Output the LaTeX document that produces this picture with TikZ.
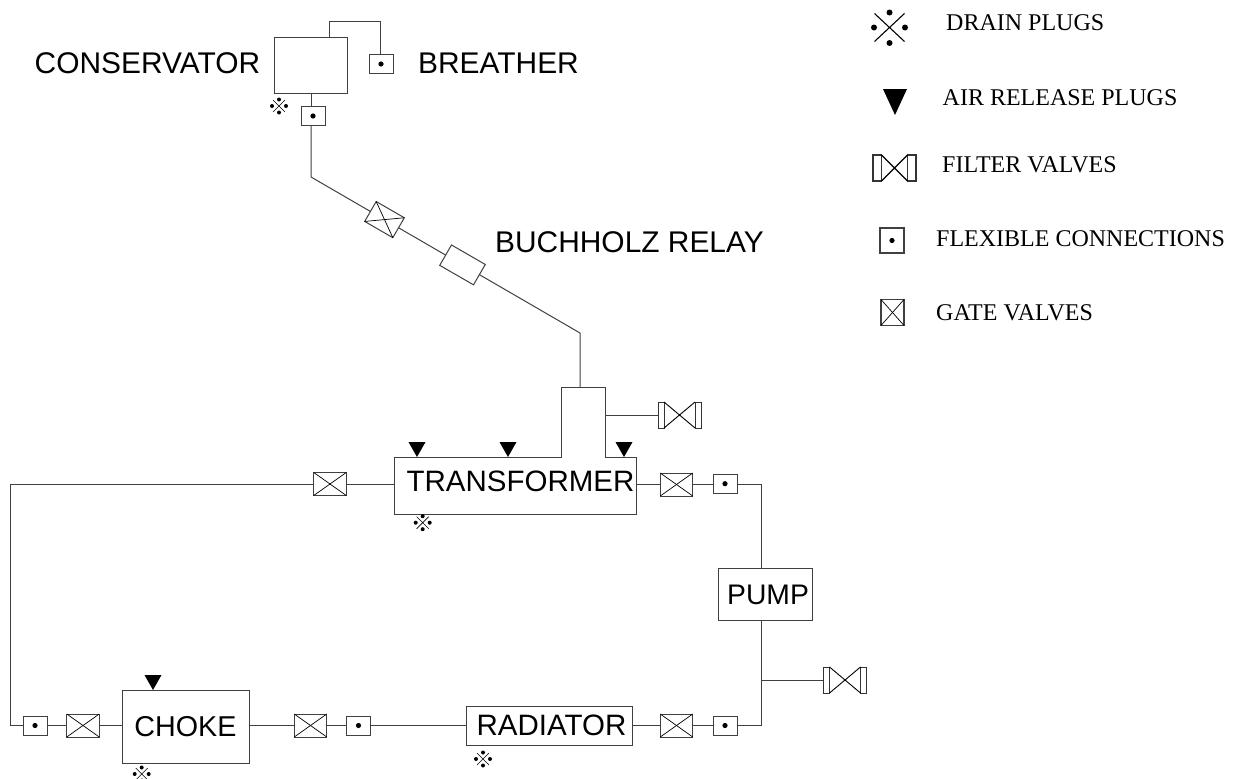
\documentclass[tikz,border=0pt]{standalone}
\usepackage{fontspec}
\setmainfont{Liberation Serif}
\newfontfamily\labelfont{Liberation Sans}
\usetikzlibrary{calc}
\tikzset{
  pipe/.style={draw=black!75,line width=1pt},
  boxed/.style={draw=black!75,line width=1pt,fill=white,rectangle,inner sep=0pt,outer sep=0pt},
  gatev/.style={boxed,minimum width=32.5pt,minimum height=23pt,
    append after command={
      (\tikzlastnode.north west) edge[black,line width=0.7pt] (\tikzlastnode.south east)
      (\tikzlastnode.north east) edge[black,line width=0.7pt] (\tikzlastnode.south west)}},
  flexc/.style={boxed,minimum width=24pt,minimum height=19pt,
    path picture={\fill[black] (path picture bounding box.center) circle (2.6pt);}},
  filterv/.style={rectangle,inner sep=0pt,outer sep=0pt,minimum width=43pt,minimum height=26pt},
  bodybox/.style={boxed,font=\labelfont\fontsize{28.7}{32}\selectfont},
  lbl/.style={font=\labelfont\fontsize{29.9}{32}\selectfont,inner sep=0pt,anchor=base west},
  legend/.style={font=\fontsize{24}{26}\selectfont,inner sep=0pt,anchor=base west},
  airplug/.pic={\fill[black] (-8.5,-15)--(8.5,-15)--(0,0)--cycle;},
  drainsmall/.pic={
    \draw[black,line width=0.6pt] (-6,-6)--(6,6) (-6,6)--(6,-6);
    \fill[black] (0,-6.5) circle (2) (0,6.5) circle (2) (-7,0) circle (2) (7,0) circle (2);},
  drainbig/.pic={
    \draw[black,line width=1.1pt] (-15,-14)--(15,14) (-15,14)--(15,-14);
    \fill[black] (0,-15) circle (3) (0,15.5) circle (3) (-15.5,0) circle (3) (15.5,0) circle (3);},
}
\newcommand{\fvalve}[3][0.9pt]{%
  \draw[black!80,line width=#1] (#2.north west) rectangle ($(#2.south west)+(#3,0)$);
  \draw[black!80,line width=#1] (#2.north east) rectangle ($(#2.south east)+(-#3,0)$);
  \draw[black,line width=#1] ($(#2.north west)+(#3,0)$)--($(#2.south east)+(-#3,0)$)
     ($(#2.south west)+(#3,0)$)--($(#2.north east)+(-#3,0)$);}
\begin{document}
\begin{tikzpicture}[x=1pt,y=-1pt]
\useasboundingbox (0,0) rectangle (1240,779);
% routing points
\coordinate (brt1) at (329.5,21);
\coordinate (brt2) at (380,21);
\coordinate (cbend) at (311,177);
\coordinate (b2) at (580,333);
\coordinate (tl) at (10,484);
\coordinate (bl) at (10,725);
\coordinate (tr) at (761,484);
\coordinate (br) at (761,725.5);
\coordinate (jn) at (761,680);
% transformer outline
\coordinate (a) at (394,457);
\coordinate (b) at (561,457);
\coordinate (c) at (561,387);
\coordinate (d) at (605,387);
\coordinate (e) at (605,457);
\coordinate (f) at (636,457);
\coordinate (g) at (636,514);
\coordinate (h) at (394,514);
\coordinate (ntop) at (580,387);
\coordinate (ntap) at (605,415);
\coordinate (xfl) at (394,484);
\coordinate (xfr) at (636,484);
% conservator
\node[boxed,minimum width=73pt,minimum height=56pt] (cons) at (310.5,65) {};
\node[flexc] (brflex) at (381,64) {};
\node[flexc] (cflex) at (313,116) {};
\draw[pipe] (cons.north -| brt1)--(brt1)--(brt2)--(brflex.north -| brt2);
\draw[pipe] (cons.south -| cbend)--(cflex.north -| cbend);
\draw[pipe] (cflex.south -| cbend)--(cbend)--(b2)--(ntop);
\node[gatev,rotate=-30] (g0) at (384.5,219.6) {};
\node[boxed,rotate=-30,minimum width=39pt,minimum height=23.5pt] (relay) at (462.5,264.9) {};
\node[lbl] (tcons) at (34.5,73.5) {CONSERVATOR};
\node[lbl] (tbr) at (418,73.5) {BREATHER};
\node[lbl] (tbu) at (495,252) {BUCHHOLZ RELAY};
% transformer
\draw[pipe] (a)--(b)--(c)--(d)--(e)--(f)--(g)--(h)--cycle;
\node[font=\labelfont\fontsize{29.5}{32}\selectfont,inner sep=0pt] (xf) at (520.5,481.5) {TRANSFORMER};
\node[filterv] (fv1) at (679.5,415) {};
\draw[pipe] (ntap)--(fv1.west);
\fvalve{fv1}{6}
\foreach \x in {417,508,624} {\pic at (\x,457) {airplug};}
\pic at (422.7,522.7) {drainsmall};
\pic at (279,106) {drainsmall};
% top row
\node[gatev] (g1) at (330,484) {};
\node[gatev] (g2) at (676.5,484.5) {};
\node[flexc] (f2) at (725,483.7) {};
\draw[pipe] (xfl)--(g1.east |- xfl);
\draw[pipe] (g1.west |- tl)--(tl)--(bl)--(23,725);
\draw[pipe] (xfr)--(g2.west |- xfr);
\draw[pipe] (g2.east |- xfr)--(f2.west |- xfr);
\draw[pipe] (f2.east |- tr)--(tr);
% pump
\node[boxed,minimum width=94pt,minimum height=52pt] (pump) at (765,594) {};
\node[font=\labelfont\fontsize{28.3}{32}\selectfont,inner sep=0pt] (tpump) at (768,595) {PUMP};
\draw[pipe] (tr)--(pump.north -| tr);
\draw[pipe] (pump.south -| tr)--(br);
\node[filterv] (fv2) at (845,680) {};
\draw[pipe] (jn)--(fv2.west);
\fvalve{fv2}{6}
% bottom row
\node[flexc] (f3) at (35,725.5) {};
\node[gatev] (g3) at (83,725.5) {};
\node[bodybox,minimum width=127pt,minimum height=73pt] (choke) at (185.5,726.5) {CHOKE};
\node[gatev] (g4) at (310.5,725.5) {};
\node[flexc] (f4) at (358.5,725.5) {};
\node[boxed,minimum width=166pt,minimum height=39pt] (rad) at (549,725.5) {};
\node[font=\labelfont\fontsize{29.5}{32}\selectfont,inner sep=0pt] (trad) at (551.5,725.5) {RADIATOR};
\node[gatev] (g5) at (676.5,725.5) {};
\node[flexc] (f5) at (725,725.5) {};
\draw[pipe] (f3.east)--(g3.west);
\draw[pipe] (g3.east)--(choke.west |- g3);
\draw[pipe] (choke.east |- g4)--(g4.west);
\draw[pipe] (g4.east)--(f4.west);
\draw[pipe] (f4.east)--(rad.west);
\draw[pipe] (rad.east)--(g5.west);
\draw[pipe] (g5.east)--(f5.west);
\draw[pipe] (f5.east)--(br);
\pic at (153,690) {airplug};
\pic at (141.7,774) {drainsmall};
\pic at (483,759) {drainsmall};
% legend
\pic at (889.5,27.5) {drainbig};
\node[legend] (l1) at (946,30) {DRAIN PLUGS};
\fill[black] (883,89)--(907,89)--(895,115)--cycle;
\node[legend] (l2) at (942.5,105) {AIR RELEASE PLUGS};
\node[filterv] (lfv) at (894.5,168) {};
\fvalve[1.2pt]{lfv}{8.5}
\node[legend] (l3) at (942,172) {FILTER VALVES};
\node[flexc,line width=1.3pt,minimum height=25pt] (lfl) at (892,240.5) {};
\node[legend] (l4) at (936,246.7) {FLEXIBLE CONNECTIONS};
\node[gatev,line width=1.3pt,minimum width=23pt,minimum height=26pt] (lgv) at (892.5,312.5) {};
\node[legend] (l5) at (936,320) {GATE VALVES};
\end{tikzpicture}
\end{document}
